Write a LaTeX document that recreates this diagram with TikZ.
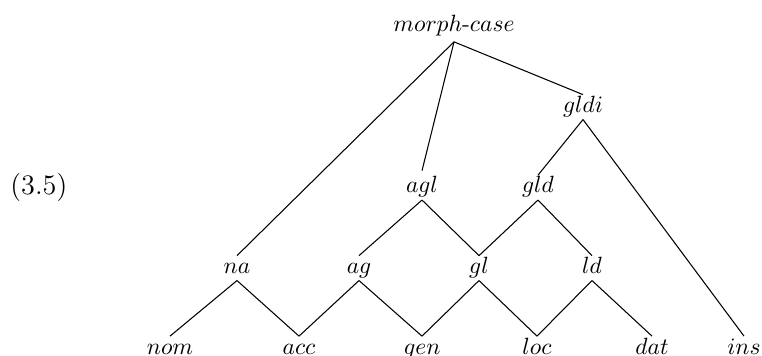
\documentclass[tikz,border=0pt]{standalone}
\begin{document}
\begin{tikzpicture}[x=0.4255pt,y=-0.4255pt,
  lbl/.style={inner sep=0pt,outer sep=0pt,text height=7.6pt,text depth=3pt,anchor=base},
  edge/.style={draw=black,line width=0.45pt}]
\useasboundingbox (0,0) rectangle (762,356);
\node[anchor=base west,inner sep=0pt,font=\large] (num) at (10,195) {(3.5)};
\node[lbl,text depth=4.2pt] (mc) at (454,32) {$morph\mbox{-}case$};
\node[lbl] (gldi) at (583,112.5) {$gldi$};
\node[lbl,text height=9.5pt] (agl) at (422,193) {$agl$};
\node[lbl] (gld) at (538,193) {$gld$};
\node[lbl] (na) at (237,273.5) {$na$};
\node[lbl] (ag) at (359,273.5) {$ag$};
\node[lbl] (gl) at (479,273.5) {$gl$};
\node[lbl] (ld) at (592,273.5) {$ld$};
\node[lbl] (nom) at (170,354) {$nom$};
\node[lbl] (acc) at (299,354) {$acc$};
\node[lbl] (gen) at (422,354) {$gen$};
\node[lbl] (loc) at (537,354) {$loc$};
\node[lbl] (dat) at (652,354) {$dat$};
\node[lbl] (ins) at (744,354) {$ins$};
\draw[edge] (mc.south) -- (na.north);
\draw[edge] (mc.south) -- (agl.north);
\draw[edge] (mc.south) -- (gldi.north);
\draw[edge] (gldi.south) -- (gld.north);
\draw[edge] (gldi.south) -- (ins.north);
\draw[edge] (agl.south) -- (ag.north);
\draw[edge] (agl.south) -- (gl.north);
\draw[edge] (gld.south) -- (gl.north);
\draw[edge] (gld.south) -- (ld.north);
\draw[edge] (na.south) -- (nom.north);
\draw[edge] (na.south) -- (acc.north);
\draw[edge] (ag.south) -- (acc.north);
\draw[edge] (ag.south) -- (gen.north);
\draw[edge] (gl.south) -- (gen.north);
\draw[edge] (gl.south) -- (loc.north);
\draw[edge] (ld.south) -- (loc.north);
\draw[edge] (ld.south) -- (dat.north);
\end{tikzpicture}
\end{document}
